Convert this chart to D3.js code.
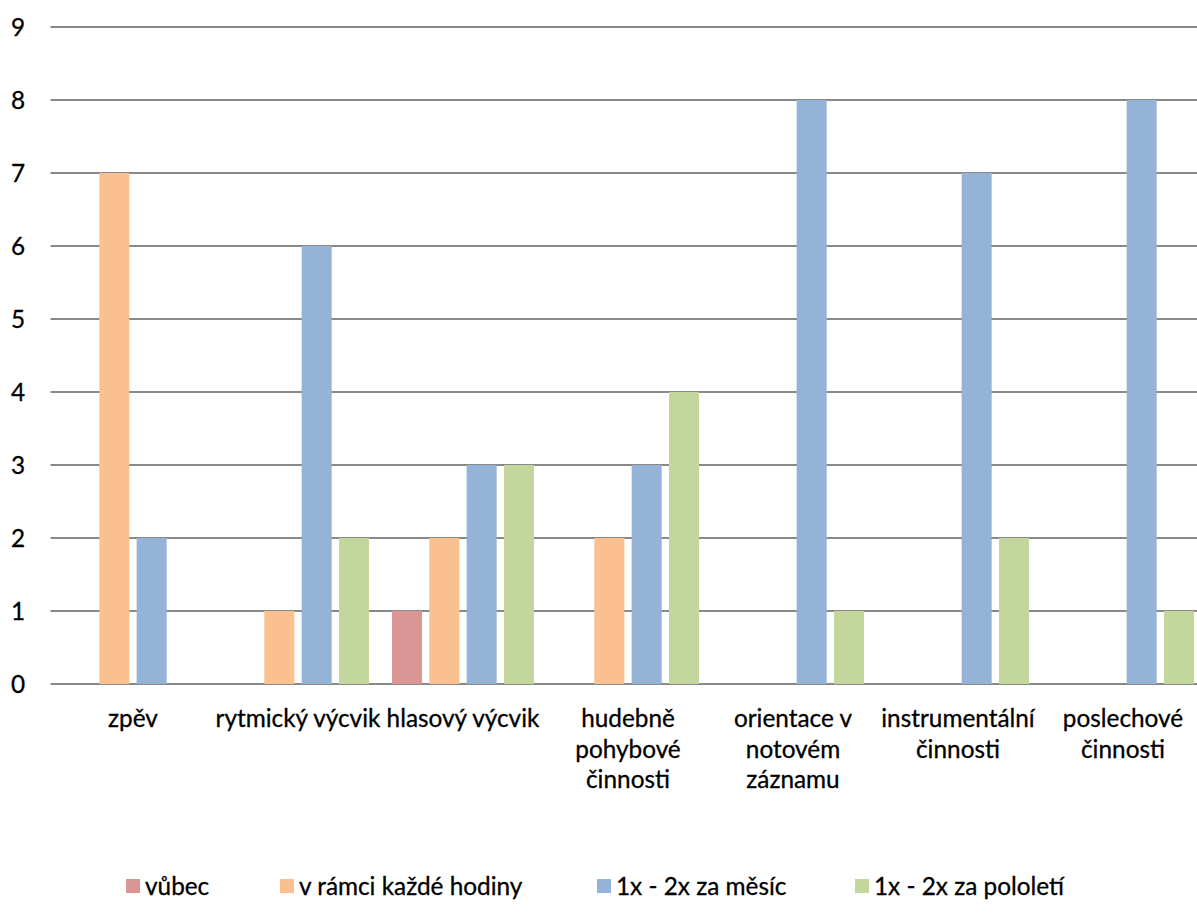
<!DOCTYPE html>
<html>
<head>
<meta charset="utf-8">
<script src="https://cdn.jsdelivr.net/npm/d3@7"></script>
<style>
  html, body { margin: 0; padding: 0; background: #fff; }
  svg { display: block; }
  text { font-family: Lato, "Noto Sans", sans-serif; fill: #000; stroke: #000; stroke-width: 0.3px; }
</style>
</head>
<body>
<svg id="chart" width="1197" height="922"></svg>
<script>
// ---- data ----
const categories = [
  "zpěv",
  "rytmický výcvik",
  "hlasový výcvik",
  "hudebně pohybové činnosti",
  "orientace v notovém záznamu",
  "instrumentální činnosti",
  "poslechové činnosti"
];
const categoryLines = [
  ["zpěv"],
  ["rytmický výcvik"],
  ["hlasový výcvik"],
  ["hudebně", "pohybové", "činnosti"],
  ["orientace v", "notovém", "záznamu"],
  ["instrumentální", "činnosti"],
  ["poslechové", "činnosti"]
];
const seriesNames = ["vůbec", "v rámci každé hodiny", "1x - 2x za měsíc", "1x - 2x za pololetí"];
const vubec     = [0, 0, 1, 0, 0, 0, 0];
const kazdaHod  = [7, 1, 2, 2, 0, 0, 0];
const zaMesic   = [2, 6, 3, 3, 8, 7, 8];
const zaPololeti= [0, 2, 3, 4, 1, 2, 1];
const yTicks = [0, 1, 2, 3, 4, 5, 6, 7, 8, 9];
const seriesColors = ["#D99694", "#FAC090", "#95B3D7", "#C3D69B"];

const seriesValues = [vubec, kazdaHod, zaMesic, zaPololeti];

(function () {
// ---- layout ----
const svg = d3.select("#chart");
const pLeft = 50.5, pRight = 1205.5, pTop = 27, pBottom = 684;

// font calibration
function measure(str, size, ws) {
  const p = svg.append("text").attr("font-size", size).style("word-spacing", (ws || 0) + "px").text(str);
  const w = p.node().getComputedTextLength();
  p.remove();
  return w;
}
const fs = 24 * 105.5 / measure("pohybové", 24);
const ws = Math.max(0, 164 - measure("rytmický výcvik", fs, 0));

const x0 = d3.scaleBand().domain(categories).range([pLeft, pRight]).paddingInner(0).paddingOuter(0);
const x1 = d3.scaleBand().domain(seriesNames).range([0, x0.bandwidth()]).paddingInner(0.196).paddingOuter(0.308);
const y = d3.scaleLinear().domain([0, 9]).range([pBottom, pTop]);

// gridlines
const grid = svg.append("g");
grid.selectAll("line").data(yTicks).join("line")
  .attr("x1", pLeft).attr("x2", 1197)
  .attr("y1", d => y(d)).attr("y2", d => y(d))
  .attr("stroke", "#898989").attr("stroke-width", 2);

// y labels
const yAxis = d3.axisLeft(y).tickValues(yTicks).tickSize(0).tickPadding(0).tickFormat(d3.format("d"));
const ya = svg.append("g").attr("transform", "translate(25,0)").call(yAxis);
ya.select(".domain").remove();
ya.selectAll("text").attr("font-size", fs).attr("font-family", "Lato, 'Noto Sans', sans-serif")
  .attr("fill", "#000").attr("stroke", "#000").attr("stroke-width", 0.3).attr("dy", "0.35em");

// bars
const groups = svg.append("g").selectAll("g").data(categories).join("g")
  .attr("transform", d => `translate(${x0(d)},0)`);
groups.selectAll("rect")
  .data((c, ci) => seriesNames.map((s, si) => ({ s, si, v: seriesValues[si][ci] })))
  .join("rect")
  .attr("x", d => x1(d.s))
  .attr("width", x1.bandwidth())
  .attr("y", d => y(d.v))
  .attr("height", d => y(0) - y(d.v))
  .attr("fill", d => seriesColors[d.si]);

// x labels
const xl = svg.append("g");
categories.forEach((c, i) => {
  const cx = x0(c) + x0.bandwidth() / 2;
  const t = xl.append("text")
    .attr("x", cx)
    .attr("y", 727)
    .attr("text-anchor", "middle")
    .attr("font-size", fs)
    .style("word-spacing", ws + "px");
  categoryLines[i].forEach((ln, k) => {
    t.append("tspan").attr("x", cx).attr("dy", k === 0 ? 0 : 30.5).text(ln);
  });
});

// legend
const legendX = [126, 280, 597, 855];
const legY = 886;
const lg = svg.append("g");
seriesNames.forEach((s, i) => {
  lg.append("rect").attr("x", legendX[i]).attr("y", legY - 7).attr("width", 14).attr("height", 14).attr("fill", seriesColors[i]);
  lg.append("text").attr("x", legendX[i] + 19).attr("y", legY).attr("dy", "0.35em")
    .attr("font-size", fs).style("word-spacing", ws + "px").text(s);
});
})();
</script>
</body>
</html>
